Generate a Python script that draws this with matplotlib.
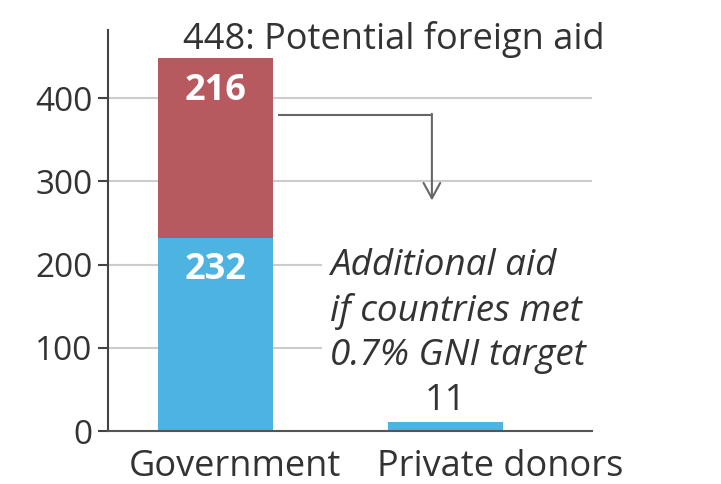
import matplotlib
matplotlib.use("Agg")
import matplotlib.pyplot as plt

categories = ["Government", "Private donors"]
current_aid = [232, 11]
additional_aid = [216, 0]
total_label = "448: Potential foreign aid"
note_text = "Additional aid\nif countries met\n0.7% GNI target"
yticks = [0, 100, 200, 300, 400]

RED = "#b65a60"
BLUE = "#4db3e1"
TXT = "#333333"
FONT = "Open Sans"
FS = 26
FS_TICK = 24

plt.rcParams['font.family'] = [FONT, 'DejaVu Sans']

fig = plt.figure(figsize=(7.21, 4.84), dpi=100)
ax = fig.add_axes([108/721, 1-431/484, (592-108)/721, (431-30)/484])

x = list(range(len(categories)))
ax.bar(x, current_aid, width=0.5, color=BLUE, zorder=3)
ax.bar(x, additional_aid, bottom=current_aid, width=0.5, color=RED, zorder=3)

ax.set_xlim(-0.467, 1.637)
ax.set_ylim(0, 481.7)
ax.set_yticks(yticks)
ax.set_yticklabels([str(v) for v in yticks], fontsize=FS_TICK, color=TXT)
ax.tick_params(axis='y', length=7, width=1.5, color="#444444", pad=4)
ax.set_xticks([])
ax.yaxis.grid(True, color="#cccccc", lw=1.5, zorder=0)
for s in ["top", "right"]:
    ax.spines[s].set_visible(False)
ax.spines["left"].set_color("#444444")
ax.spines["left"].set_linewidth(1.5)
ax.spines["bottom"].set_color("#555555")
ax.spines["bottom"].set_linewidth(1.5)
ax.spines["bottom"].set_zorder(4)

# segment labels
ax.text(0, current_aid[0] + additional_aid[0] - 40, str(additional_aid[0]),
        ha="center", va="center", color="white", fontsize=FS, fontweight="bold", zorder=5)
ax.text(0, current_aid[0] - 38, str(current_aid[0]),
        ha="center", va="center", color="white", fontsize=FS, fontweight="bold", zorder=5)
ax.text(1, current_aid[1] + 25, str(current_aid[1]),
        ha="center", va="center", color=TXT, fontsize=FS, zorder=5)
ax.text(-0.141, current_aid[0] + additional_aid[0] + 22, total_label,
        ha="left", va="center", color=TXT, fontsize=FS, zorder=5, clip_on=False)

# category labels
offsets = [0.085, 0.237]
for i, c in enumerate(categories):
    ax.text(i + offsets[i], -43, c, ha="center", va="center", color=TXT,
            fontsize=FS, clip_on=False)

# arrow
ax.plot([0.272, 0.941], [380, 380], color="#666666", lw=1.5, zorder=4,
        solid_capstyle="butt")
ax.annotate("", xy=(0.941, 277), xytext=(0.941, 381),
            arrowprops=dict(arrowstyle="->,head_length=1.1,head_width=0.6",
                            color="#666666", lw=1.5, shrinkA=0, shrinkB=0))

ax.text(0.498, 144, note_text, ha="left", va="center", color=TXT,
        fontsize=26.5, style="italic", linespacing=1.3, zorder=5,
        bbox=dict(facecolor="white", edgecolor="none", pad=6))

fig.savefig("out.png", dpi=100)
